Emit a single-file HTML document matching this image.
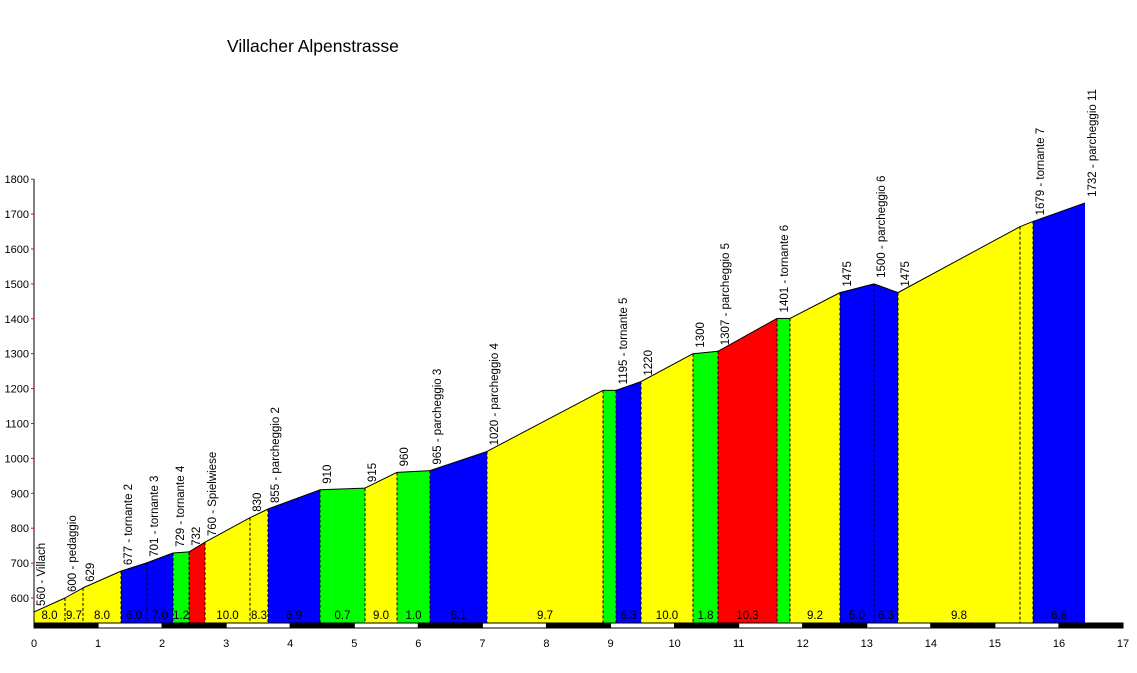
<!DOCTYPE html>
<html><head><style>body{margin:0;background:#fff}svg{display:block;font-family:"Liberation Sans",Arial,sans-serif}</style></head><body>
<svg width="1137" height="673" viewBox="0 0 1137 673">
<text x="227" y="52" font-size="17.5">Villacher Alpenstrasse</text>
<g id="segs"></g>
<line x1="34" y1="179" x2="34" y2="623" stroke="#000"/>
<g id="yax" font-size="11" text-anchor="end"></g>
<g id="bar"></g>
<g id="xax" font-size="11" text-anchor="middle"></g>
<g id="lbl" font-size="11.5"></g>
<g id="grd" font-size="11.5" text-anchor="middle"></g>
</svg>
<script>
const P=[[34,560],[65,600],[83,629],[121,677],[147,701],[173,729],[189,732],[205,760],[250,830],[268,855],[320,910],[365,915],[397,960],[430,965],[487,1020],[603,1195],[616,1195],[641,1220],[693,1300],[718,1307],[777,1401],[790,1401],[840,1475],[874,1500],[898,1475],[1020,1664],[1033,1679],[1085,1732]];
const C=['#ff0','#ff0','#ff0','#00f','#00f','#0f0','#f00','#ff0','#ff0','#00f','#0f0','#ff0','#0f0','#00f','#ff0','#0f0','#00f','#ff0','#0f0','#f00','#0f0','#ff0','#00f','#00f','#ff0','#ff0','#00f'];
const G=['8.0','9.7','8.0','6.0','7.0','1.2','','10.0','8.3','6.9','0.7','9.0','1.0','6.1','9.7','','6.3','10.0','1.8','10.3','','9.2','5.0','6.3','9.8','','6.6'];
const L={0:'560 - Villach',1:'600 - pedaggio',2:'629',3:'677 - tornante 2',4:'701 - tornante 3',5:'729 - tornante 4',6:'732',7:'760 - Spielwiese',8:'830',9:'855 - parcheggio 2',10:'910',11:'915',12:'960',13:'965 - parcheggio 3',14:'1020 - parcheggio 4',16:'1195 - tornante 5',17:'1220',18:'1300',19:'1307 - parcheggio 5',20:'1401 - tornante 6',22:'1475',23:'1500 - parcheggio 6',24:'1475',26:'1679 - tornante 7',27:'1732 - parcheggio 11'};
const Y=e=>598-(e-600)*0.349, B=623;
let s='',l='',g='';
for(let i=0;i<P.length-1;i++){const[a,e1]=P[i],[b,e2]=P[i+1];
s+=`<polygon points="${a},${B} ${a},${Y(e1)} ${b},${Y(e2)} ${b},${B}" fill="${C[i]}"/>`;
if(i>0)s+=`<line x1="${a}" y1="${Y(e1)}" x2="${a}" y2="${B}" stroke="#000" stroke-dasharray="3,2"/>`;
s+=`<line x1="${a}" y1="${Y(e1)}" x2="${b}" y2="${Y(e2)}" stroke="#000"/>`;
if(G[i])g+=`<text x="${(a+b)/2}" y="619">${G[i]}</text>`;}
P.forEach((p,i)=>{if(L[i]){const x=p[0]+11,y=Y(p[1])-6;l+=`<text transform="translate(${x},${y}) rotate(-90)">${L[i]}</text>`;}});
document.getElementById('segs').innerHTML=s;document.getElementById('lbl').innerHTML=l;document.getElementById('grd').innerHTML=g;
let ya='';for(let e=600;e<=1800;e+=100){const y=Y(e);ya+=`<line x1="31" y1="${y}" x2="34" y2="${y}" stroke="#f00"/><text x="29" y="${y+4}">${e}</text>`;}
document.getElementById('yax').innerHTML=ya;
const X=k=>34+k*64.06;let br='',xa='';
for(let k=0;k<17;k++){br+=`<rect x="${X(k)}" y="623" width="64.06" height="5" fill="${k%2?'#fff':'#000'}" stroke="#000" stroke-width="1"/>`;}
for(let k=0;k<=17;k++)xa+=`<text x="${X(k)}" y="647">${k}</text>`;
document.getElementById('bar').innerHTML=br;document.getElementById('xax').innerHTML=xa;
</script>
</body></html>
